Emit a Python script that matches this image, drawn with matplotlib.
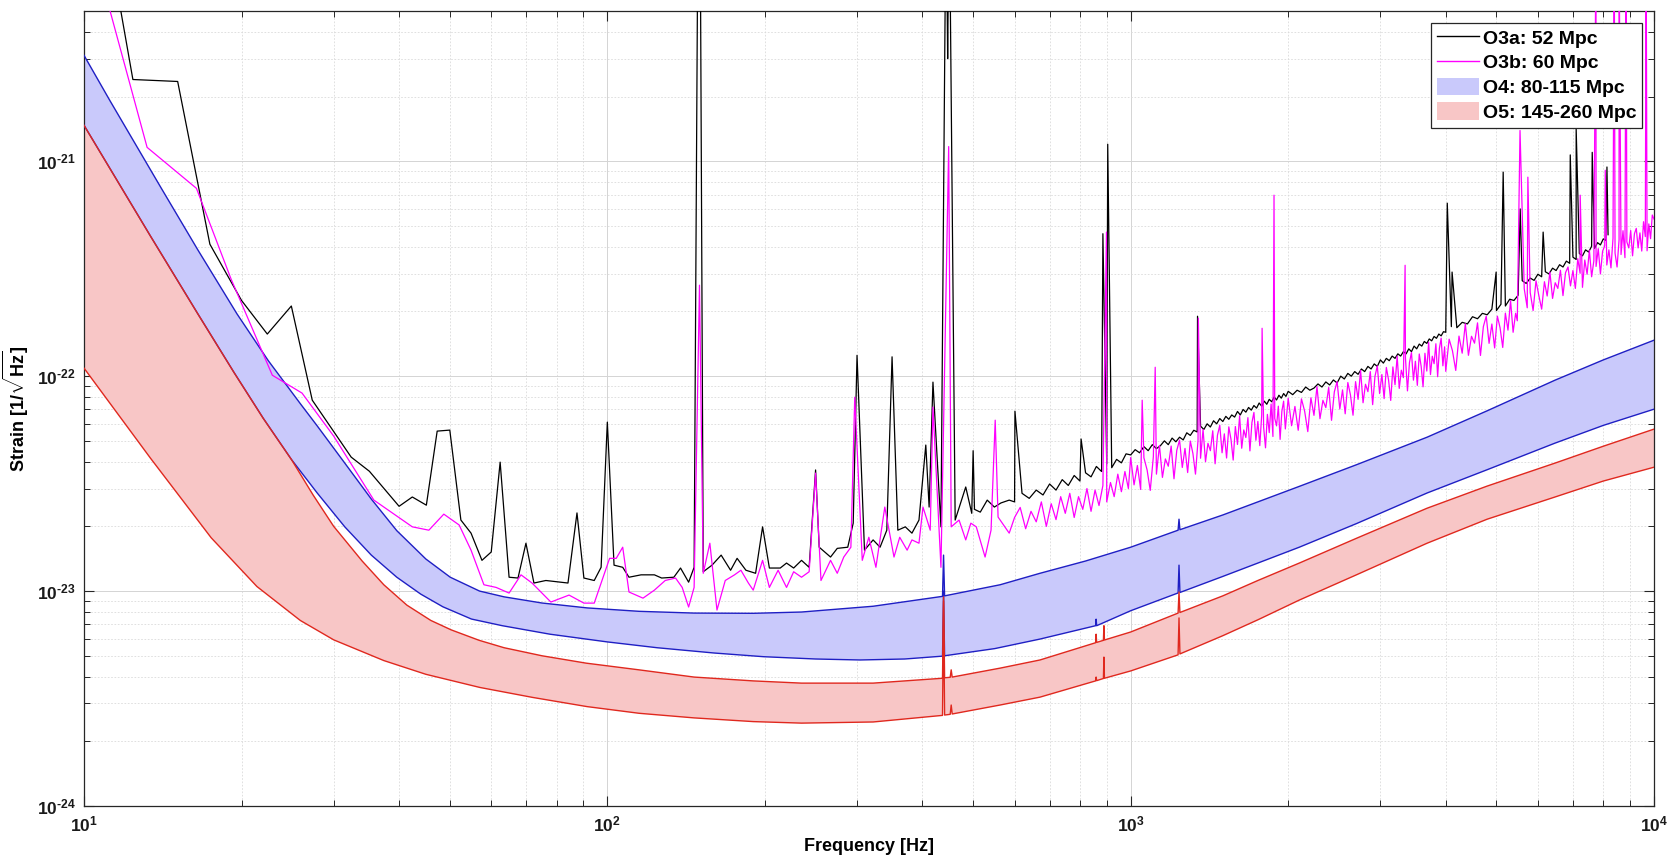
import numpy as np
import matplotlib
matplotlib.use('Agg')
import matplotlib.pyplot as plt
from matplotlib.patches import Patch
from matplotlib.lines import Line2D
from matplotlib.ticker import FixedLocator, LogLocator, FuncFormatter, NullFormatter

plt.rcParams['font.family'] = ['Liberation Sans', 'DejaVu Sans']
plt.rcParams['font.weight'] = 'bold'
plt.rcParams['mathtext.fontset'] = 'custom'
plt.rcParams['mathtext.rm'] = 'Liberation Sans:bold'
plt.rcParams['mathtext.bf'] = 'Liberation Sans:bold'
plt.rcParams['mathtext.it'] = 'Liberation Sans:bold:italic'

E23 = 1e-23  # unit of the high-frequency lists below

# ---- O3a (black): below 600 Hz
o3a_freq = [10, 12.4, 15.1, 17.4, 20.0, 22.4, 24.9, 27.3, 32.4, 35.1, 40.0, 42.4, 45.1, 47.3, 50.0,
            52.5, 54.9, 57.6, 60.0, 62.4, 64.9, 67.5, 69.9, 72.4, 76.3, 84.1, 87.5, 90.2, 94.4, 97.3,
            100, 103, 107, 110, 116, 123, 127, 134, 138, 143, 146.5, 149, 150.5, 152.5, 158.5, 165,
            172, 177, 184, 192, 198, 204, 214, 220, 227, 235, 243, 250, 254, 267, 275, 288, 295, 300,
            310, 322, 332, 342, 350, 359, 371, 382, 394, 406, 412, 419, 434, 444, 447, 450, 462, 484,
            497, 500, 503, 516, 532, 549, 565, 586]
o3a_strain = [4.7e-20, 2.40e-21, 2.35e-21, 4.11e-22, 2.25e-22, 1.57e-22, 2.12e-22, 7.73e-23, 4.20e-23,
              3.61e-23, 2.48e-23, 2.74e-23, 2.51e-23, 5.55e-23, 5.61e-23, 2.14e-23, 1.86e-23, 1.39e-23,
              1.52e-23, 3.98e-23, 1.16e-23, 1.15e-23, 1.67e-23, 1.09e-23, 1.12e-23, 1.09e-23, 2.31e-23,
              1.15e-23, 1.12e-23, 1.29e-23, 6.11e-23, 1.32e-23, 1.29e-23, 1.16e-23, 1.19e-23, 1.19e-23,
              1.15e-23, 1.16e-23, 1.28e-23, 1.10e-23, 1.29e-23, 1.5e-20, 1.2e-20, 1.23e-23, 1.32e-23,
              1.47e-23, 1.25e-23, 1.42e-23, 1.25e-23, 1.21e-23, 1.99e-23, 1.28e-23, 1.28e-23, 1.35e-23,
              1.28e-23, 1.39e-23, 1.29e-23, 3.66e-23, 1.60e-23, 1.44e-23, 1.58e-23, 1.60e-23, 2.07e-23,
              1.25e-22, 1.55e-23, 1.73e-23, 1.60e-23, 1.92e-23, 1.23e-22, 1.92e-23, 1.99e-23, 1.86e-23,
              2.14e-23, 4.78e-23, 2.46e-23, 9.38e-23, 1.99e-23, 2.0e-20, 3.0e-21, 2.0e-20, 2.14e-23,
              3.05e-23, 2.3e-23, 4.5e-23, 2.4e-23, 2.33e-23, 2.65e-23, 2.46e-23, 2.57e-23, 2.65e-23]
# O3a above 600 Hz (units of 1e-23)
o3a_hf_freq = [600, 620, 640, 660, 680, 700, 720, 740, 760, 780, 800, 820, 840, 860, 880, 900, 920, 940,
               960, 980,
               1000, 1020, 1040, 1060, 1080, 1100, 1120, 1140, 1160, 1180, 1200, 1220, 1240, 1260, 1280,
               1300, 1320, 1340, 1360, 1380, 1400, 1420, 1440, 1460, 1480, 1500, 1520, 1540, 1560, 1580,
               1600, 1620, 1640, 1660, 1680, 1700, 1720, 1740, 1760, 1780, 1800, 1820, 1840, 1860, 1880,
               1900, 1920, 1940, 1960, 1980,
               2000, 2040, 2080, 2120, 2160, 2200, 2240, 2280, 2320, 2360, 2400, 2440, 2480, 2520, 2560,
               2600, 2640, 2680, 2720, 2760, 2800, 2840, 2880, 2920, 2960, 3000, 3040, 3080, 3120, 3160,
               3200, 3240, 3280, 3320, 3360, 3400, 3440, 3480, 3520, 3560, 3600, 3640, 3680, 3720, 3760,
               3800, 3840, 3880, 3920, 3960,
               4000, 4100, 4200, 4300, 4400, 4500, 4600, 4700, 4800, 4900, 5000, 5100, 5200, 5300, 5400,
               5500,
               5600, 5700, 5800, 5900, 6000, 6100, 6200, 6300, 6400, 6500, 6600, 6700, 6800, 6900, 7000,
               7100, 7200, 7300, 7400, 7500, 7600, 7700, 7800, 7900, 8000, 8100, 8170]
o3a_hf = [2.6, 2.85, 2.7, 2.95, 2.8, 3.15, 2.95, 3.3, 3.1, 3.45, 3.25, 3.55, 3.4, 3.8, 3.6, 3.9, 3.75, 4.1,
          3.95, 4.35,
          4.3, 4.55, 4.4, 4.7, 4.5, 4.8, 4.6, 4.75, 5.0, 4.8, 5.15, 4.95, 5.2, 5.05, 5.45, 5.3, 5.6, 5.5,
          5.85, 5.65, 6.0, 5.8, 6.2, 6.0, 6.35, 6.15, 6.5, 6.3, 6.6, 6.45, 6.85, 6.6, 7.0, 6.8, 7.15,
          6.95, 7.3, 7.1, 7.5, 7.25, 7.65, 7.4, 7.8, 7.6, 8.0, 7.75, 8.15, 7.9, 8.3, 8.05,
          8.5, 8.2, 8.6, 8.4, 8.9, 8.6, 8.8, 9.2, 8.9, 9.4, 9.1, 9.6, 9.3, 10.0, 9.7, 10.3, 10.0, 10.5,
          10.2, 10.8, 10.5, 11.1, 10.8, 11.4, 11.1, 11.9, 11.5, 12.1, 11.8, 12.4, 12.1, 12.7, 12.4, 13.0,
          12.7, 13.4, 13.0, 13.8, 13.4, 14.1, 13.8, 14.5, 14.2, 14.9, 14.6, 15.3, 15.0, 15.7, 15.4, 16.1,
          16.0, 17.0, 16.8, 17.8, 17.5, 18.9, 18.5, 19.6, 19.3, 20.5, 20.2, 21.6, 21.2, 22.8, 22.5, 23.8,
          27.8, 27.0, 28.6, 27.9, 29.8, 29.0, 30.6, 29.9, 31.8, 31.0, 33.0, 32.2, 34.3, 33.5, 35.8, 34.9,
          37.2, 36.3, 38.7, 37.8, 40.2, 39.3, 41.8, 40.8, 43.5, 42.8, 45.5]
o3a_line_freq = [601, 804, 885, 904, 1342, 4027, 4113, 4993, 5150, 5550, 6140, 6918, 7100, 7620, 8130]
o3a_line = [6.87, 5.1, 46, 120, 19, 63.8, 30.5, 30.5, 89, 60, 46.8, 107, 142, 110, 94]

# ---- O3b (magenta): below 600 Hz
o3b_freq = [10, 13.2, 16.4, 19.1, 22.9, 26.1, 30.0, 35.8, 42.4, 45.6, 48.7, 52.1, 54.9, 58.1, 61.3,
            64.9, 68.4, 71.8, 78.0, 84.5, 90.2, 94.4, 101, 104, 107, 110, 117, 123, 129, 135, 139,
            143, 146.5, 150, 152.5, 157, 162, 168, 175, 180, 186, 190, 198, 204, 212, 220, 227, 235,
            243, 250, 256, 267, 275, 283, 292, 297, 307, 316, 326, 339, 353, 362, 374, 382, 394, 401,
            414, 419, 434, 449, 454, 470, 484, 495, 507, 527, 541, 551, 558, 586]
o3b_strain = [1.4e-20, 1.16e-21, 7.48e-22, 2.83e-22, 1.01e-22, 8.34e-23, 5.26e-23, 2.65e-23, 1.99e-23,
              1.92e-23, 2.28e-23, 2.03e-23, 1.55e-23, 1.07e-23, 1.04e-23, 9.79e-24, 1.19e-23, 1.09e-23,
              8.89e-24, 9.58e-24, 8.79e-24, 8.79e-24, 1.42e-23, 1.42e-23, 1.60e-23, 9.9e-24, 9.27e-24,
              1.01e-23, 1.12e-23, 1.15e-23, 1.04e-23, 8.43e-24, 1.04e-23, 2.65e-22, 1.21e-23, 1.67e-23,
              8.16e-24, 1.12e-23, 1.19e-23, 1.25e-23, 1.09e-23, 1.01e-23, 1.39e-23, 1.04e-23, 1.25e-23,
              1.04e-23, 1.23e-23, 1.16e-23, 1.23e-23, 3.54e-23, 1.12e-23, 1.39e-23, 1.21e-23, 1.44e-23,
              1.60e-23, 7.98e-23, 1.39e-23, 1.78e-23, 1.29e-23, 2.46e-23, 1.44e-23, 1.78e-23, 1.55e-23,
              1.73e-23, 1.67e-23, 2.46e-23, 1.92e-23, 7.18e-23, 1.29e-23, 1.17e-21, 1.99e-23, 2.14e-23,
              1.73e-23, 2.07e-23, 1.99e-23, 1.44e-23, 1.92e-23, 6.24e-23, 2.21e-23, 1.86e-23]
# O3b above 600 Hz (units of 1e-23)
o3b_hf_freq = [600, 615, 630, 645, 660, 675, 690, 705, 720, 735, 750, 765, 780, 795, 810, 825, 840, 855,
               870, 885, 900, 915, 930, 945, 960, 975, 990,
               1000, 1015, 1030, 1045, 1060, 1075, 1090, 1105, 1120, 1135, 1150, 1165, 1180, 1195, 1210,
               1225, 1240, 1255, 1270, 1285, 1300, 1315, 1330, 1345, 1360, 1375, 1390, 1405, 1420, 1435,
               1450, 1465, 1480, 1495, 1510, 1525, 1540, 1555, 1570, 1585, 1600, 1615, 1630, 1645, 1660,
               1675, 1690, 1705, 1720, 1735, 1750, 1765, 1780, 1795, 1810, 1825, 1840, 1855, 1870, 1885,
               1900, 1915, 1930, 1945, 1960, 1975, 1990,
               2000, 2030, 2060, 2090, 2120, 2150, 2180, 2210, 2240, 2270, 2300, 2330, 2360, 2390, 2420,
               2450, 2480, 2510, 2540, 2570, 2600, 2630, 2660, 2690, 2720, 2750, 2780, 2810, 2840, 2870,
               2900, 2930, 2960, 2990, 3020, 3050, 3080, 3110, 3140, 3170, 3200, 3230, 3260, 3290, 3320,
               3350, 3380, 3410, 3440, 3470, 3500, 3530, 3560, 3590, 3620, 3650, 3680, 3710, 3740, 3770,
               3800, 3830, 3860, 3890, 3920, 3950, 3980,
               4000, 4060, 4120, 4180, 4240, 4300, 4360, 4420, 4480, 4540, 4600, 4660, 4720, 4780, 4840,
               4900, 4960, 5020, 5080, 5140, 5200, 5260, 5320, 5380, 5440, 5480,
               5650, 5725, 5800, 5875, 5950, 6025, 6100, 6175, 6250, 6325, 6400, 6475, 6550, 6625, 6700,
               6775, 6850, 6925, 7000, 7075, 7150, 7225, 7300, 7375, 7450, 7525, 7600, 7675, 7750, 7825,
               7900, 7975, 8050, 8125, 8200, 8275, 8350, 8425, 8500, 8575, 8650, 8725, 8800, 8875, 8950,
               9025, 9100, 9175, 9250, 9325, 9400, 9475, 9550, 9625, 9700, 9775, 9850, 9925, 10000]
o3b_hf = [2.2, 2.45, 1.95, 2.35, 2.1, 2.6, 2.0, 2.55, 2.15, 2.75, 2.3, 2.85, 2.2, 2.75, 2.4, 3.0, 2.35,
          2.95, 2.5, 3.1, 2.6, 3.2, 2.75, 3.5, 2.9, 3.6, 3.0,
          4.18, 3.12, 3.84, 2.97, 4.17, 3.66, 2.94, 4.22, 3.50, 4.76, 3.38, 4.12, 3.81, 4.73, 3.33, 4.52,
          5.04, 3.76, 4.61, 3.56, 4.99, 4.37, 3.50, 5.03, 4.15, 5.65, 4.00, 4.87, 4.50, 5.57, 3.91, 5.31,
          5.91, 4.40, 5.39, 4.16, 5.81, 5.08, 4.07, 5.83, 4.81, 6.54, 4.62, 5.62, 5.18, 6.41, 4.49, 6.09,
          6.78, 5.03, 6.16, 4.75, 6.62, 5.79, 4.64, 6.64, 5.46, 7.42, 5.24, 6.36, 5.87, 7.25, 5.08, 6.87,
          7.65, 5.68, 6.94,
          7.89, 5.88, 7.23, 5.60, 7.84, 6.87, 5.52, 7.93, 6.57, 8.94, 6.34, 7.72, 7.14, 8.86, 6.23, 8.45,
          9.43, 7.03, 8.63, 6.68, 9.34, 8.18, 6.58, 9.43, 7.80, 10.62, 7.52, 9.17, 8.47, 10.50, 7.37,
          10.00, 11.16, 8.30, 10.18, 7.86, 10.98, 9.61, 7.71, 11.04, 9.12, 12.39, 8.77, 10.66, 9.84,
          12.17, 8.54, 11.58, 12.89, 9.58, 11.73, 9.06, 12.68, 11.10, 8.92, 12.78, 10.56, 14.37, 10.17,
          12.38, 11.43, 14.15, 9.94, 13.48, 15.03, 11.17, 13.69,
          10.53, 14.86, 13.12, 10.63, 15.36, 12.79, 17.53, 12.50, 15.33, 14.24, 17.70, 12.48, 17.00,
          19.03, 14.21, 17.48, 13.53, 19.02, 16.79, 13.60, 19.65, 16.37, 22.44, 16.00, 19.62, 18.1,
          25.5, 20.8, 24.5, 20.2, 27.8, 23.7, 20.5, 27.5, 23.6, 30.5, 23.0, 27.2, 25.6, 31.1, 23.7, 30.3,
          32.2, 26.3, 31.0, 25.6, 35.2, 30.1, 25.9, 34.7, 29.8, 38.5, 29.0, 34.4, 32.4, 39.2, 29.9, 38.1,
          40.4, 32.9, 38.7, 31.9, 43.8, 37.4, 32.2, 43.0, 36.8, 47.5, 35.6, 42.1, 39.5, 47.6, 36.3, 46.0,
          48.7, 39.5, 46.4, 38.2, 52.3, 44.6, 38.3, 51.1, 43.6, 56.2, 53.8]
o3b_line_freq = [899, 1052, 1114, 1347, 1783, 1879, 3345, 5546, 5741, 7227, 7745, 8070, 8395, 8576,
                 8843, 9660]
o3b_line = [46.8, 7.73, 11.0, 18.6, 16.7, 69.5, 32.8, 139, 84.3, 69.5, 1000, 90.8, 1000, 1000, 1000, 1000]

# ---- O4 projection: 80 Mpc (upper) and 115 Mpc (lower)
o4_upper_freq = [10, 11.2, 14, 16.5, 19.6, 22.5, 25.9, 27.9, 31.5, 35.4, 39.6, 45, 50.1, 57, 63.5, 75,
                 91.5, 115, 146.5, 190, 235, 322, 437, 439, 441, 563, 671, 820, 1000, 1232, 1237, 1242,
                 1500, 1750, 2100, 2700, 3685, 4800, 6470, 8000, 10000]
o4_upper = [3.11e-21, 1.92e-21, 7.6e-22, 3.87e-22, 1.95e-22, 1.18e-22, 7.45e-23, 5.87e-23, 3.94e-23,
            2.68e-23, 1.91e-23, 1.41e-23, 1.16e-23, 1.0e-23, 9.4e-24, 8.8e-24, 8.35e-24, 8.05e-24,
            7.9e-24, 7.88e-24, 7.99e-24, 8.5e-24, 9.45e-24, 1.47e-23, 9.5e-24, 1.07e-23, 1.21e-23,
            1.38e-23, 1.6e-23, 1.92e-23, 2.16e-23, 1.93e-23, 2.26e-23, 2.6e-23, 3.07e-23, 3.87e-23,
            5.2e-23, 6.9e-23, 9.58e-23, 1.19e-22, 1.47e-22]
o4_lower_freq = [10, 13.4, 16.5, 19.35, 22, 24.9, 27.9, 31.5, 35.4, 39.6, 44, 48.5, 55, 63, 77.7, 100,
                 124.5, 160, 199, 250, 304, 370, 437, 439, 441, 550, 671, 857, 859, 861, 1000, 1232,
                 1237, 1242, 1500, 1750, 2100, 2700, 3685, 4800, 6470, 8000, 10000]
o4_lower = [1.47e-21, 4.48e-22, 1.95e-22, 1.04e-22, 6.37e-23, 4.1e-23, 2.86e-23, 1.99e-23, 1.47e-23,
            1.16e-23, 9.68e-24, 8.45e-24, 7.41e-24, 6.9e-24, 6.3e-24, 5.8e-24, 5.45e-24, 5.15e-24,
            4.95e-24, 4.83e-24, 4.78e-24, 4.83e-24, 4.98e-24, 1.0e-23, 5.0e-24, 5.4e-24, 5.98e-24,
            6.9e-24, 7.4e-24, 6.9e-24, 8.1e-24, 9.8e-24, 1.32e-23, 9.85e-24, 1.17e-23, 1.35e-23,
            1.6e-23, 2.06e-23, 2.86e-23, 3.67e-23, 4.88e-23, 5.9e-23, 7.02e-23]

# ---- O5 projection: 145 Mpc (upper) and 260 Mpc (lower)
o5_upper_freq = [10, 13.4, 16.5, 19.35, 22, 24.9, 27.4, 30, 34, 37.4, 41.4, 46, 50.3, 56.9, 63.5, 75,
                 91.1, 115, 146.5, 190, 235, 322, 437, 439, 441, 452, 454, 456, 563, 671, 857, 859, 861,
                 887, 889, 891, 1000, 1232, 1237, 1242, 1500, 1750, 2100, 2700, 3685, 4800, 6470, 8000,
                 10000]
o5_upper = [1.47e-21, 4.48e-22, 1.95e-22, 1.04e-22, 6.37e-23, 4.1e-23, 2.8e-23, 2.0e-23, 1.38e-23,
            1.07e-23, 8.6e-24, 7.3e-24, 6.6e-24, 5.9e-24, 5.45e-24, 5.0e-24, 4.62e-24, 4.3e-24, 3.98e-24,
            3.82e-24, 3.73e-24, 3.73e-24, 3.93e-24, 9.4e-24, 3.95e-24, 3.97e-24, 4.3e-24, 3.98e-24,
            4.38e-24, 4.78e-24, 5.75e-24, 6.3e-24, 5.77e-24, 5.9e-24, 6.9e-24, 5.92e-24, 6.45e-24,
            7.9e-24, 9.9e-24, 7.95e-24, 9.5e-24, 1.12e-23, 1.35e-23, 1.76e-23, 2.43e-23, 3.08e-23,
            3.94e-23, 4.72e-23, 5.67e-23]
o5_lower_freq = [10, 13.4, 17.5, 21.4, 25.9, 30, 37.4, 45, 57.1, 72, 91.5, 115, 146.5, 190, 235, 322,
                 437, 439, 441, 452, 454, 456, 563, 671, 857, 859, 861, 887, 889, 891, 1000, 1232, 1237,
                 1242, 1500, 1750, 2100, 2700, 3685, 4800, 6470, 8000, 10000]
o5_lower = [1.09e-22, 4.15e-23, 1.77e-23, 1.05e-23, 7.3e-24, 5.93e-24, 4.75e-24, 4.10e-24, 3.56e-24,
            3.2e-24, 2.9e-24, 2.7e-24, 2.57e-24, 2.47e-24, 2.43e-24, 2.46e-24, 2.64e-24, 9.0e-24,
            2.65e-24, 2.67e-24, 2.95e-24, 2.68e-24, 2.95e-24, 3.21e-24, 3.82e-24, 3.98e-24, 3.83e-24,
            3.92e-24, 4.93e-24, 3.93e-24, 4.25e-24, 5.05e-24, 7.5e-24, 5.1e-24, 6.2e-24, 7.35e-24,
            9.08e-24, 1.19e-23, 1.67e-23, 2.16e-23, 2.74e-23, 3.25e-23, 3.77e-23]

labels = ['O3a: 52 Mpc', 'O3b: 60 Mpc', 'O4: 80-115 Mpc', 'O5: 145-260 Mpc']
x_ticks = [10, 100, 1000, 10000]
y_ticks = [1e-24, 1e-23, 1e-22, 1e-21]


def merged(freq, strain, hf_freq, hf, line_freq, line):
    f = np.concatenate([freq, hf_freq, line_freq])
    h = np.concatenate([strain, np.array(hf) * E23, np.array(line) * E23])
    order = np.argsort(f, kind='stable')
    return f[order], h[order]


o3a_f, o3a_h = merged(o3a_freq, o3a_strain, o3a_hf_freq, o3a_hf, o3a_line_freq, o3a_line)
o3b_f, o3b_h = merged(o3b_freq, o3b_strain, o3b_hf_freq, o3b_hf, o3b_line_freq, o3b_line)

blue_fill, blue_line = '#c9c9fb', '#1f1fc4'
red_fill, red_line = '#f8c6c6', '#e0281e'

fig = plt.figure(figsize=(16.69, 8.61), dpi=100)
ax = fig.add_axes([84/1669, 55/861, 1570/1669, 795/861])

# each band is a polygon: upper curve then lower curve reversed
ax.fill(o4_upper_freq + o4_lower_freq[::-1], o4_upper + o4_lower[::-1], color=blue_fill, lw=0, zorder=2)
ax.fill(o5_upper_freq + o5_lower_freq[::-1], o5_upper + o5_lower[::-1], color=red_fill, lw=0, zorder=2)
ax.plot(o4_upper_freq, o4_upper, color=blue_line, lw=1.0, zorder=3)
ax.plot(o4_lower_freq, o4_lower, color=blue_line, lw=1.0, zorder=3)
ax.plot(o5_upper_freq, o5_upper, color=red_line, lw=1.0, zorder=3)
ax.plot(o5_lower_freq, o5_lower, color=red_line, lw=1.0, zorder=3)

ax.plot(o3a_f, o3a_h, color='black', lw=0.9, zorder=4)
ax.plot(o3b_f, o3b_h, color='#ff00ff', lw=0.9, zorder=5)

ax.set_xscale('log')
ax.set_yscale('log')
ax.set_xlim(10, 1e4)
ax.set_ylim(1e-24, 5e-21)


def pow_label(v, pos):
    e = int(round(np.log10(v)))
    if e < 0:
        return r'$\mathbf{10^{\text{-%d}}}$' % (-e)
    return r'$\mathbf{10^{%d}}$' % e


for axis, ticks in ((ax.xaxis, x_ticks), (ax.yaxis, y_ticks)):
    axis.set_major_locator(FixedLocator(ticks))
    axis.set_minor_locator(LogLocator(base=10, subs=np.arange(2, 10), numticks=12))
    axis.set_major_formatter(FuncFormatter(pow_label))
    axis.set_minor_formatter(NullFormatter())

ax.tick_params(which='both', direction='in', top=True, right=True, color='#262626',
               labelsize=12.5, labelcolor='#1a1a1a')
ax.tick_params(which='major', length=7, width=0.8, pad=6)
ax.tick_params(which='minor', length=4, width=0.7)

ax.grid(which='major', color='#d4d4d4', lw=0.7, ls='-')
ax.grid(which='minor', color='#dadada', lw=0.6, ls=(0, (2, 2)))
ax.set_axisbelow(True)
for s in ax.spines.values():
    s.set_color('#262626')
    s.set_linewidth(0.9)

ax.set_xlabel('Frequency [Hz]', fontsize=13, fontweight='bold', labelpad=3)
ax.set_ylabel(r'Strain [1/$\sqrt{\mathrm{Hz}}$]', fontsize=13, fontweight='bold', labelpad=4)

handles = [Line2D([], [], color='black', lw=1.0),
           Line2D([], [], color='#ff00ff', lw=1.0),
           Patch(facecolor=blue_fill, edgecolor='none'),
           Patch(facecolor=red_fill, edgecolor='none')]
leg = ax.legend(handles, labels, loc='upper right', fontsize=14, frameon=True, fancybox=False,
                edgecolor='#262626', framealpha=1, borderaxespad=0.6, handlelength=2.15,
                handleheight=1.0, handletextpad=0.2, borderpad=0.3, labelspacing=0.27)
leg.get_frame().set_linewidth(0.9)
leg.set_zorder(10)

fig.savefig('out.png', dpi=100)
